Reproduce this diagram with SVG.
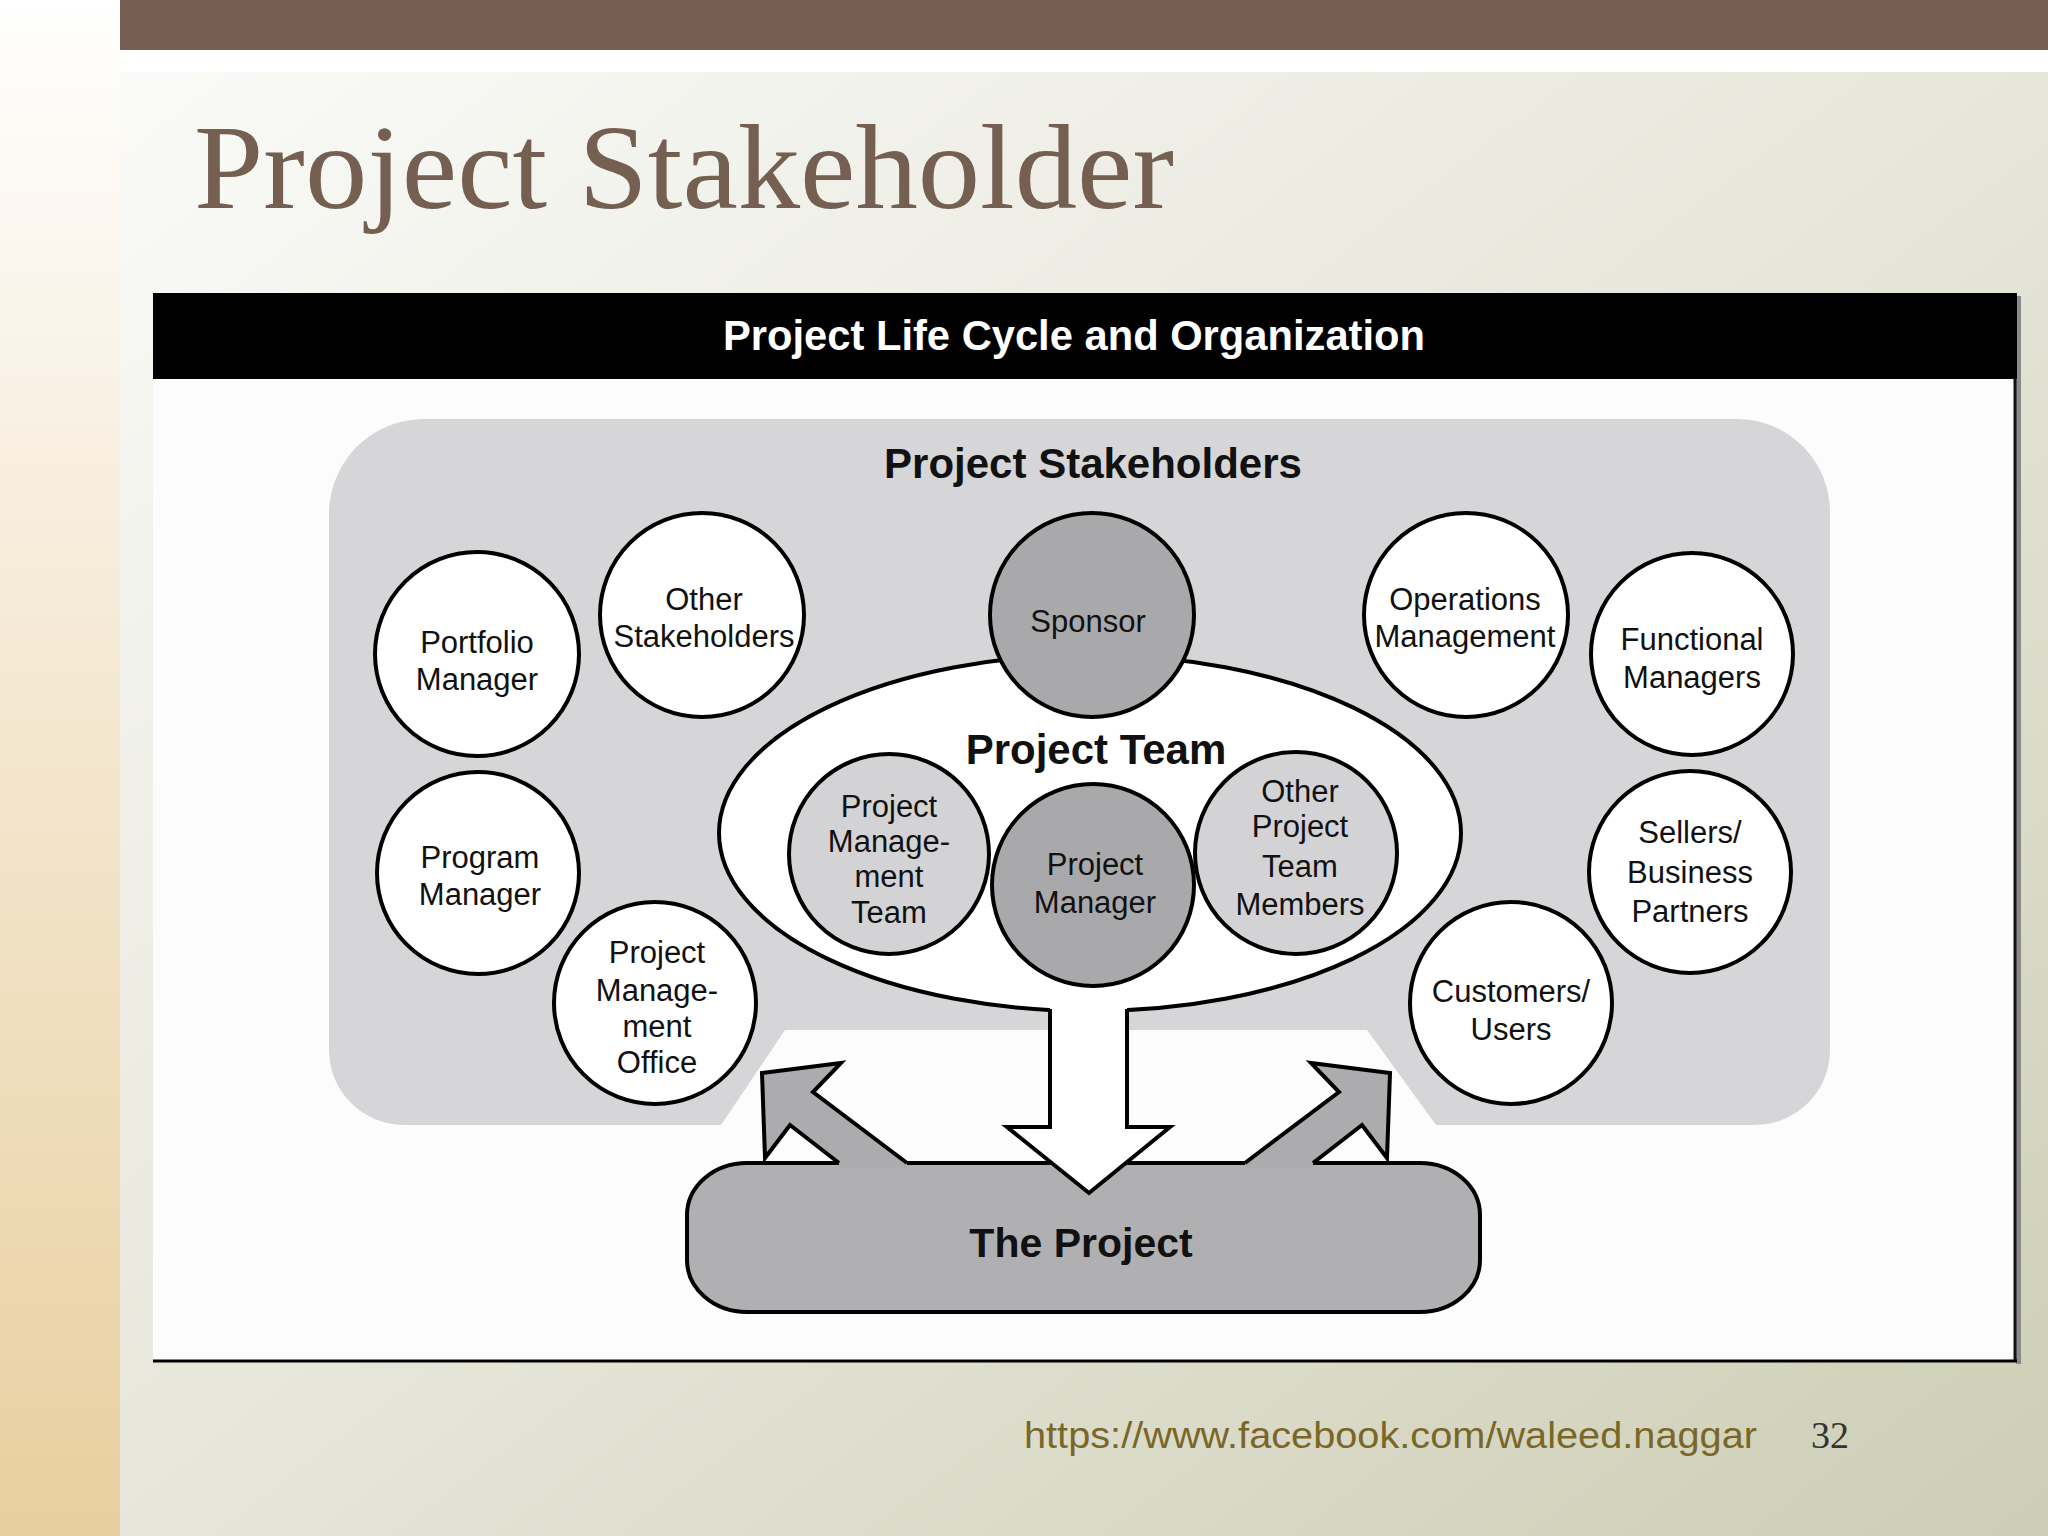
<svg xmlns="http://www.w3.org/2000/svg" width="2048" height="1536" viewBox="0 0 2048 1536">
<defs>
<linearGradient id="strip" x1="0" y1="0" x2="0" y2="1">
<stop offset="0" stop-color="#ffffff"/>
<stop offset="0.3" stop-color="#f8efe0"/>
<stop offset="1" stop-color="#e8cf9f"/>
</linearGradient>
<linearGradient id="bg" x1="0" y1="0" x2="1" y2="1">
<stop offset="0" stop-color="#fafaf8"/>
<stop offset="0.5" stop-color="#e6e6da"/>
<stop offset="1" stop-color="#cdceb5"/>
</linearGradient>
<style>
.lbl{font-family:"Liberation Sans",Arial,sans-serif;font-size:31px;fill:#111;text-anchor:middle}
.hd{font-family:"Liberation Sans",Arial,sans-serif;font-weight:bold;fill:#111;text-anchor:middle}
.wc{fill:#ffffff;stroke:#000;stroke-width:4}
.dk{fill:#a9a9ab;stroke:#000;stroke-width:4}
.lt{fill:#d3d3d5;stroke:#000;stroke-width:4}
.ol{fill:none;stroke:#000;stroke-width:4;stroke-linejoin:miter}
</style>
</defs>
<!-- slide background -->
<rect x="0" y="0" width="2048" height="1536" fill="#ffffff"/>
<rect x="0" y="0" width="120" height="1536" fill="url(#strip)"/>
<rect x="120" y="72" width="1928" height="1464" fill="url(#bg)"/>
<rect x="120" y="0" width="1928" height="50" fill="#765f52"/>
<text x="194" y="208" font-family="'Liberation Serif','Times New Roman',serif" font-size="120" fill="#745f51" textLength="980" lengthAdjust="spacingAndGlyphs">Project Stakeholder</text>

<!-- figure frame -->
<rect x="2016" y="296" width="5" height="1068" fill="#8a8a8a"/>
<rect x="153" y="293" width="1863" height="1069" fill="#fdfcfd"/>
<rect x="153" y="293" width="1864" height="86" fill="#000"/>
<line x1="2015" y1="378" x2="2015" y2="1362" stroke="#111" stroke-width="3"/>
<line x1="153" y1="1361" x2="2017" y2="1361" stroke="#000" stroke-width="3"/>
<text x="1074" y="350" class="hd" font-size="43" style="fill:#fff" textLength="702" lengthAdjust="spacingAndGlyphs">Project Life Cycle and Organization</text>

<!-- stakeholder area -->
<path d="M 424,419 H 1737 A 93 93 0 0 1 1830 512 V 1050 A 75 75 0 0 1 1755 1125 H 1436 L 1367 1030 H 785 L 721 1125 H 404 A 75 75 0 0 1 329 1050 V 512 A 95 95 0 0 1 424 419 Z" fill="#d6d6d8"/>
<text x="1093" y="478" class="hd" font-size="42">Project Stakeholders</text>

<!-- project team ellipse -->
<g id="project-team">
<ellipse cx="1090" cy="833" rx="371" ry="178" class="wc"/>
<text x="1096" y="764" class="hd" font-size="42">Project Team</text>
</g>

<!-- The Project -->
<g id="the-project">
<rect x="687" y="1163" width="793" height="149" rx="60" ry="52" fill="#b0b0b2" stroke="#000" stroke-width="4"/>
<text x="1081" y="1257" class="hd" font-size="41">The Project</text>
</g>

<!-- connectors -->
<g id="connectors">
<polygon points="1050,1000 1050,1127 1007,1127 1089,1193 1170,1127 1127,1127 1127,1000" fill="#fff"/>
<polyline points="1050,1009 1050,1127 1007,1127 1089,1193 1170,1127 1127,1127 1127,1009" class="ol"/>
<polygon points="839,1163 790,1125 765,1158 762,1073 841,1063 813,1092 907,1163 907,1168 839,1168" fill="#acacae"/>
<polyline points="839,1163 790,1125 765,1158 762,1073 841,1063 813,1092 907,1163" class="ol"/>
<polygon points="1313,1163 1362,1125 1387,1158 1390,1073 1311,1063 1339,1092 1245,1163 1245,1168 1313,1168" fill="#acacae"/>
<polyline points="1313,1163 1362,1125 1387,1158 1390,1073 1311,1063 1339,1092 1245,1163" class="ol"/>
</g>

<!-- nodes -->
<g id="portfolio-manager"><circle cx="477" cy="654" r="102" class="wc"/><text class="lbl" x="477" y="653">Portfolio</text><text class="lbl" x="477" y="690">Manager</text></g>
<g id="other-stakeholders"><circle cx="702" cy="615" r="102" class="wc"/><text class="lbl" x="704" y="610">Other</text><text class="lbl" x="704" y="647">Stakeholders</text></g>
<g id="sponsor"><circle cx="1092" cy="615" r="102" class="dk"/><text class="lbl" x="1088" y="632">Sponsor</text></g>
<g id="operations-management"><circle cx="1466" cy="615" r="102" class="wc"/><text class="lbl" x="1465" y="610">Operations</text><text class="lbl" x="1465" y="647">Management</text></g>
<g id="functional-managers"><circle cx="1692" cy="654" r="101" class="wc"/><text class="lbl" x="1692" y="650">Functional</text><text class="lbl" x="1692" y="688">Managers</text></g>
<g id="program-manager"><circle cx="478" cy="873" r="101" class="wc"/><text class="lbl" x="480" y="868">Program</text><text class="lbl" x="480" y="905">Manager</text></g>
<g id="pmo"><circle cx="655" cy="1003" r="101" class="wc"/><text class="lbl" x="657" y="963">Project</text><text class="lbl" x="657" y="1001">Manage-</text><text class="lbl" x="657" y="1037">ment</text><text class="lbl" x="657" y="1073">Office</text></g>
<g id="pm-team"><circle cx="889" cy="854" r="100" class="lt"/><text class="lbl" x="889" y="817">Project</text><text class="lbl" x="889" y="852">Manage-</text><text class="lbl" x="889" y="887">ment</text><text class="lbl" x="889" y="923">Team</text></g>
<g id="project-manager"><circle cx="1093" cy="885" r="101" class="dk"/><text class="lbl" x="1095" y="875">Project</text><text class="lbl" x="1095" y="913">Manager</text></g>
<g id="other-team-members"><circle cx="1296" cy="853" r="101" class="lt"/><text class="lbl" x="1300" y="802">Other</text><text class="lbl" x="1300" y="837" font-size="28">Project</text><text class="lbl" x="1300" y="877">Team</text><text class="lbl" x="1300" y="915">Members</text></g>
<g id="sellers"><circle cx="1690" cy="872" r="101" class="wc"/><text class="lbl" x="1690" y="843">Sellers/</text><text class="lbl" x="1690" y="883">Business</text><text class="lbl" x="1690" y="922">Partners</text></g>
<g id="customers"><circle cx="1511" cy="1003" r="101" class="wc"/><text class="lbl" x="1511" y="1002">Customers/</text><text class="lbl" x="1511" y="1040">Users</text></g>

<!-- footer -->
<text x="1024" y="1448" font-family="'Liberation Sans',Arial,sans-serif" font-size="37" fill="#7a6728" textLength="733" lengthAdjust="spacingAndGlyphs">https://www.facebook.com/waleed.naggar</text>
<text x="1811" y="1448" font-family="'Liberation Serif','Times New Roman',serif" font-size="38" fill="#333">32</text>
</svg>
